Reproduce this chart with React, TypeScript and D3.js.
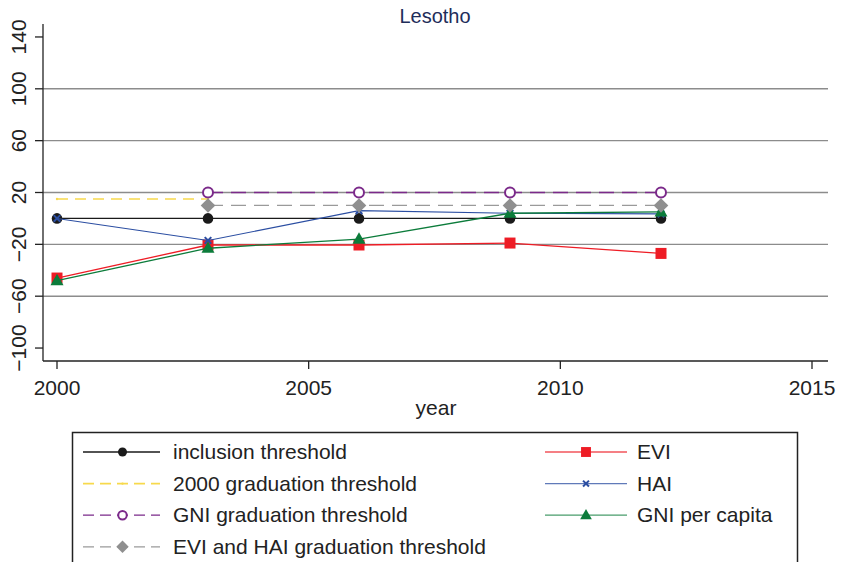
import React from "react";
import * as d3 from "d3";

const years = [2000, 2003, 2006, 2009, 2012];
const inclusion = [0, 0, 0, 0, 0];
const evi = [-46, -20.5, -20.5, -19, -27];
const grad2000 = [15, 15, null, null, null];
const hai = [0, -17, 6, 4, 3.5];
const gniGrad = [null, 20, 20, 20, 20];
const gniPc = [-48, -23, -16, 4, 5];
const eviHaiGrad = [null, 10, 10, 10, 10];

const yTicks = [-100, -60, -20, 20, 60, 100, 140];
const gridTicks = [-60, -20, 20, 60, 100];
const xTicks = [2000, 2005, 2010, 2015];

type Series = {
  name: string;
  values: (number | null)[];
  color: string;
  markerColor: string;
  marker: "circle" | "square" | "dot" | "x" | "ocircle" | "triangle" | "diamond";
  dash?: string;
  width: number;
};

const series: Series[] = [
  { name: "inclusion threshold", values: inclusion, color: "#1a1a1a", markerColor: "#1a1a1a", marker: "circle", width: 1.3 },
  { name: "EVI", values: evi, color: "#ee1c25", markerColor: "#ee1c25", marker: "square", width: 1.3 },
  { name: "2000 graduation threshold", values: grad2000, color: "#f7d94c", markerColor: "#f7d94c", marker: "dot", dash: "11,7", width: 1.6 },
  { name: "HAI", values: hai, color: "#2b4ea2", markerColor: "#2b4ea2", marker: "x", width: 1.1 },
  { name: "GNI graduation threshold", values: gniGrad, color: "#7b2a8a", markerColor: "#7b2a8a", marker: "ocircle", dash: "15,8", width: 1.3 },
  { name: "GNI per capita", values: gniPc, color: "#0c7c3b", markerColor: "#0c7c3b", marker: "triangle", width: 1.3 },
  { name: "EVI and HAI graduation threshold", values: eviHaiGrad, color: "#9a9a9a", markerColor: "#8f8f8f", marker: "diamond", dash: "15,8", width: 1.3 },
];

const legendLeft = ["inclusion threshold", "2000 graduation threshold", "GNI graduation threshold", "EVI and HAI graduation threshold"];
const legendRight = ["EVI", "HAI", "GNI per capita"];

function Marker({ s, x, y, scale = 1 }: { s: Series; x: number; y: number; scale?: number }) {
  const c = s.markerColor;
  switch (s.marker) {
    case "circle":
      return <circle cx={x} cy={y} r={5.3 * scale} fill={c} />;
    case "square": {
      const h = 5.5 * scale;
      return <rect x={x - h} y={y - h} width={2 * h} height={2 * h} fill={c} />;
    }
    case "dot":
      return <circle cx={x} cy={y} r={1.2} fill={c} />;
    case "x": {
      const h = 3.3 * scale;
      return (
        <g stroke={c} strokeWidth={2}>
          <line x1={x - h} y1={y - h} x2={x + h} y2={y + h} />
          <line x1={x - h} y1={y + h} x2={x + h} y2={y - h} />
        </g>
      );
    }
    case "ocircle":
      return <circle cx={x} cy={y} r={5 * scale} fill="white" stroke={c} strokeWidth={2} />;
    case "triangle": {
      const h = 6.5 * scale;
      return <path d={`M${x},${y - h * 1.05} L${x + h},${y + h * 0.7} L${x - h},${y + h * 0.7} Z`} fill={c} />;
    }
    case "diamond": {
      const h = 7.3 * scale;
      return <path d={`M${x},${y - h} L${x + h},${y} L${x},${y + h} L${x - h},${y} Z`} fill={c} />;
    }
  }
  return null;
}

export default function App() {
  const W = 841, H = 562;
  const x = d3.scaleLinear().domain([2000, 2015]).range([57, 812]);
  const y = d3.scaleLinear().domain([-110, 150]).range([361, 24]);
  const plotL = 43, plotR = 828, plotT = 24, plotB = 361;
  const font = "Liberation Sans, Arial, Helvetica, sans-serif";

  const line = d3
    .line<[number, number | null]>()
    .defined((d) => d[1] !== null)
    .x((d) => x(d[0]))
    .y((d) => y(d[1] as number));

  const legendRowY = [452, 483.6, 515.2, 546.8];
  const byName = (n: string) => series.find((s) => s.name === n)!;

  return (
    <svg width={W} height={H} style={{ position: "absolute", left: 0, top: 0, background: "white" }} fontFamily={font}>
      <rect x={0} y={0} width={W} height={H} fill="white" />
      <text x={435} y={23} textAnchor="middle" fontSize={20} fill="#1e2d5a">Lesotho</text>

      {gridTicks.map((t) => (
        <line key={t} x1={plotL} x2={plotR} y1={y(t)} y2={y(t)} stroke="#8c8c8c" strokeWidth={1.4} />
      ))}

      {/* y axis */}
      <line x1={plotL} x2={plotL} y1={plotT} y2={plotB} stroke="#222" strokeWidth={1.3} />
      {yTicks.map((t) => (
        <g key={t}>
          <line x1={plotL - 8} x2={plotL} y1={y(t)} y2={y(t)} stroke="#222" strokeWidth={1.3} />
          <text transform={`translate(26,${y(t)}) rotate(-90)`} textAnchor="middle" fontSize={21} fill="#222">
            {t < 0 ? "\u2212" + Math.abs(t) : t}
          </text>
        </g>
      ))}

      {/* x axis */}
      <line x1={plotL} x2={plotR} y1={plotB} y2={plotB} stroke="#222" strokeWidth={1.3} />
      {xTicks.map((t) => (
        <g key={t}>
          <line x1={x(t)} x2={x(t)} y1={plotB} y2={plotB + 8} stroke="#222" strokeWidth={1.3} />
          <text x={x(t)} y={395} textAnchor="middle" fontSize={21} fill="#222">{t}</text>
        </g>
      ))}
      <text x={436} y={415} textAnchor="middle" fontSize={21} fill="#222">year</text>

      {/* series */}
      {series.map((s) => {
        const pts = years.map((yr, i) => [yr, s.values[i]] as [number, number | null]);
        return (
          <g key={s.name}>
            <path d={line(pts) || ""} fill="none" stroke={s.color} strokeWidth={s.width} strokeDasharray={s.dash} />
            {pts.filter((p) => p[1] !== null).map((p, i) => (
              <Marker key={i} s={s} x={x(p[0])} y={y(p[1] as number)} />
            ))}
          </g>
        );
      })}

      {/* legend */}
      <rect x={72.5} y={432.5} width={725} height={160} fill="white" stroke="#222" strokeWidth={1.5} />
      {legendLeft.map((n, i) => {
        const s = byName(n);
        const ly = legendRowY[i];
        return (
          <g key={n}>
            <line x1={83} x2={160} y1={ly} y2={ly} stroke={s.color} strokeWidth={s.width} strokeDasharray={s.dash ? "11,6" : undefined} />
            <Marker s={s} x={122.5} y={ly} scale={0.85} />
            <text x={173} y={ly + 7} fontSize={21} fill="#222">{n}</text>
          </g>
        );
      })}
      {legendRight.map((n, i) => {
        const s = byName(n);
        const ly = legendRowY[i];
        return (
          <g key={n}>
            <line x1={545} x2={627} y1={ly} y2={ly} stroke={s.color} strokeWidth={s.width} strokeDasharray={s.dash} opacity={0.75} />
            <Marker s={s} x={586} y={ly} scale={0.9} />
            <text x={637} y={ly + 7} fontSize={21} fill="#222">{n}</text>
          </g>
        );
      })}
    </svg>
  );
}
